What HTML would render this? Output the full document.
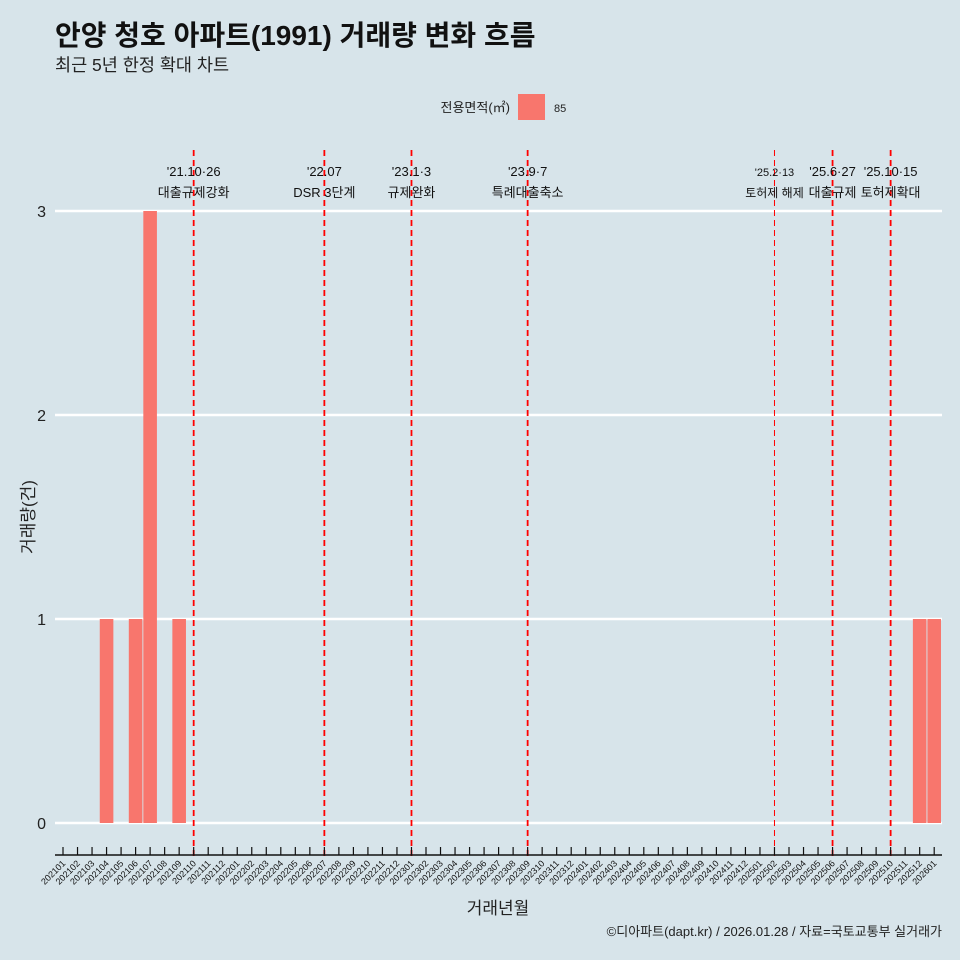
<!DOCTYPE html>
<html><head><meta charset="utf-8"><style>
body{margin:0;background:#d7e4ea;}
svg{display:block;font-family:"Liberation Sans","Noto Sans CJK KR",sans-serif;}
</style></head><body>
<svg id="chart" width="960" height="960" viewBox="0 0 960 960">
<rect width="960" height="960" fill="#d7e4ea"/>
<text x="55" y="45" font-size="28" font-weight="bold" fill="#111">안양 청호 아파트(1991) 거래량 변화 흐름</text>
<text x="55" y="71" font-size="17.5" fill="#222">최근 5년 한정 확대 차트</text>
<g>
<text x="510" y="112" font-size="13" text-anchor="end" fill="#222">전용면적(㎡)</text>
<rect x="518" y="94" width="27" height="26" fill="#f8766d"/>
<text x="554" y="112" font-size="11" fill="#222">85</text>
</g>
<g id="grid"></g><g id="bars"></g><g id="events"></g><g id="xaxis"></g>
<text x="34" y="517" font-size="17" fill="#222" text-anchor="middle" transform="rotate(-90 34 517)">거래량(건)</text>
<text x="498" y="914" font-size="17" fill="#222" text-anchor="middle">거래년월</text>
<text x="942" y="936" font-size="13" fill="#222" text-anchor="end">©디아파트(dapt.kr) / 2026.01.28 / 자료=국토교통부 실거래가</text>
</svg>
<script>
const months = [];
for (let y = 2021; y <= 2026; y++) for (let m = 1; m <= 12; m++) { if (y === 2026 && m > 1) break; months.push(y + String(m).padStart(2, '0')); }
const barMonths = ['202104','202106','202107','202109','202512','202601'];
const barValues = [1,1,3,1,1,1];
const yTicks = [0,1,2,3];
const eventMonths = ['202110','202207','202301','202309','202502','202506','202510'];
const eventDates = ["'21.10·26","'22.07","'23.1·3","'23.9·7","'25.2·13","'25.6·27","'25.10·15"];
const eventNames = ["대출규제강화","DSR 3단계","규제완화","특례대출축소","토허제 해제","대출규제","토허제확대"];

const NS = 'http://www.w3.org/2000/svg';
const x0 = 63, step = 14.52, y0 = 823, yUnit = 204;
const xs = (i) => x0 + i * step;
const ys = (v) => y0 - v * yUnit;
function mk(tag, attrs, parent) { const e = document.createElementNS(NS, tag); for (const k in attrs) e.setAttribute(k, attrs[k]); parent.appendChild(e); return e; }

const grid = document.getElementById('grid');
yTicks.forEach(t => {
  const l = mk('line', {x1: 55, x2: 942, y1: ys(t), y2: ys(t), stroke: '#fff', 'stroke-width': 2.5}, grid);
  
  
  const tx = mk('text', {x: 46, y: ys(t) + 6, 'font-size': 16, 'text-anchor': 'end', fill: '#222'}, grid);
  tx.textContent = t;
  
  
});

const bars = document.getElementById('bars');
barMonths.forEach((m, k) => {
  const i = months.indexOf(m);
  const r = mk('rect', {x: xs(i) - 6.8, y: ys(barValues[k]), width: 13.6, height: barValues[k] * yUnit, fill: '#f8766d'}, bars);
  
  
});

const ev = document.getElementById('events');
eventMonths.forEach((m, k) => {
  const x = xs(months.indexOf(m));
  const thin = m === '202502';
  const l = mk('line', {x1: x, x2: x, y1: 150, y2: 856, stroke: '#f00', 'stroke-width': thin ? 1 : 1.8, 'stroke-dasharray': '6,4'}, ev);
  
  
  const fs = thin ? 11 : 13;
  const t1 = mk('text', {x: x, y: 176, 'font-size': fs, 'text-anchor': 'middle', fill: '#111'}, ev);
  t1.textContent = eventDates[k];
  
  
  const t2 = mk('text', {x: x, y: 197, 'font-size': thin ? 12 : 13, 'text-anchor': 'middle', fill: '#111'}, ev);
  t2.textContent = eventNames[k];
  
  
});

const xa = document.getElementById('xaxis');
const al = mk('line', {x1: 55, x2: 942, y1: 855, y2: 855, stroke: '#111', 'stroke-width': 1.5}, xa);


months.forEach((m, i) => {
  const x = xs(i);
  const tk = mk('line', {x1: x, x2: x, y1: 847, y2: 855, stroke: '#111', 'stroke-width': 1.2}, xa);
  
  
  const t = mk('text', {x: x + 3, y: 864, 'font-size': 9, 'text-anchor': 'end', fill: '#111', transform: `rotate(-45 ${x + 3} 864)`}, xa);
  t.textContent = m;
  
  
});
</script>
</body></html>
